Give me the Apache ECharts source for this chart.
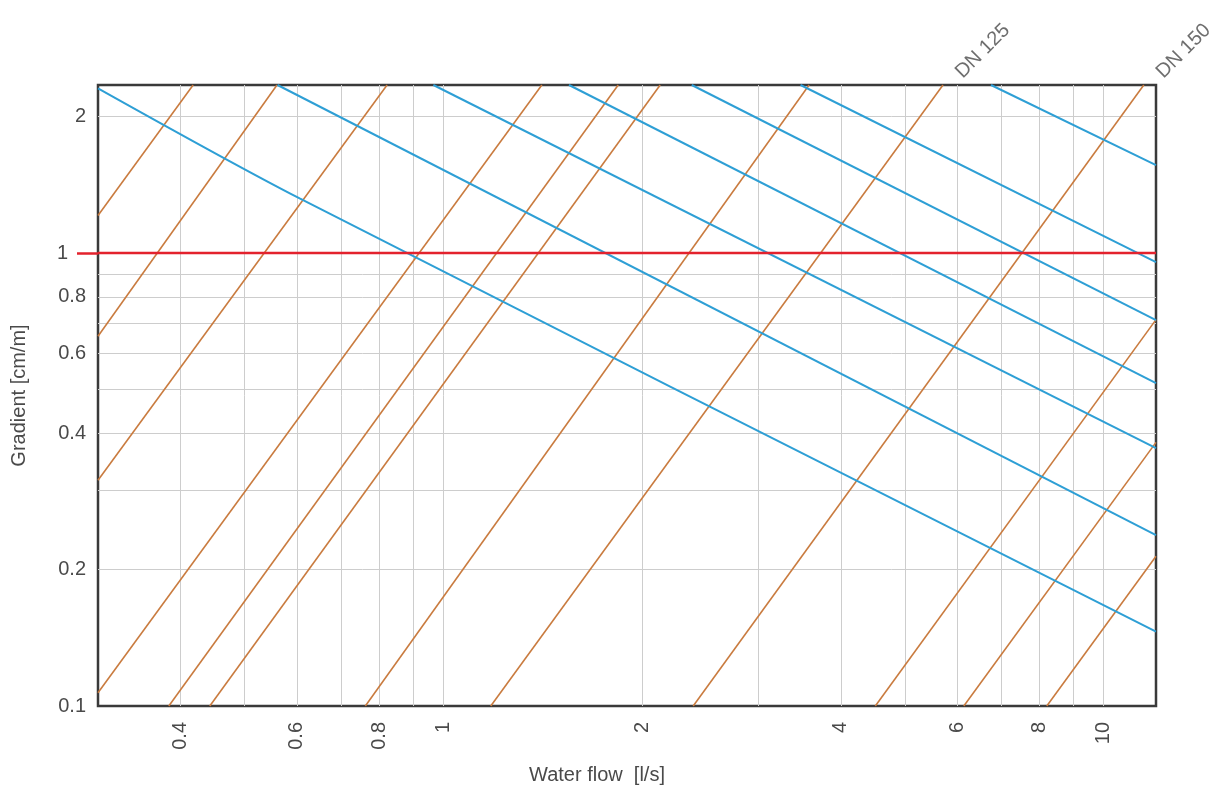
<!DOCTYPE html>
<html>
<head>
<meta charset="utf-8">
<title>Water flow vs gradient</title>
<script src="https://cdn.jsdelivr.net/npm/echarts@6/dist/echarts.min.js"></script>
<style>
  html, body { margin: 0; padding: 0; background: #ffffff; }
  #chart { width: 1210px; height: 794px; }
</style>
</head>
<body>
<div id="chart"></div>
<script>
// Axis ranges: flow in l/s, gradient in cm/m (both logarithmic)
const FLOW_RANGE = [0.3, 12];
const GRADIENT_RANGE = [0.1, 2.35];

// Grid lines and labelled ticks
const flowGridValues = [0.4, 0.5, 0.6, 0.7, 0.8, 0.9, 1, 2, 3, 4, 5, 6, 7, 8, 9, 10];
const flowTickLabels = [0.4, 0.6, 0.8, 1, 2, 4, 6, 8, 10];
const gradientGridValues = [0.2, 0.3, 0.4, 0.5, 0.6, 0.7, 0.8, 0.9, 1, 2];
const gradientTickLabels = [0.1, 0.2, 0.4, 0.6, 0.8, 1, 2];

// Pipe-size lines (orange): [flow, gradient] at both ends
const pipeLines = [
  [[0.300, 1.21], [0.418, 2.35]],
  [[0.300, 0.655], [0.560, 2.35]],
  [[0.300, 0.315], [0.822, 2.35]],
  [[0.300, 0.107], [1.41, 2.35]],
  [[0.384, 0.1], [1.84, 2.35]],
  [[0.443, 0.1], [2.13, 2.35]],
  [[0.762, 0.1], [3.58, 2.35]],
  [[1.18, 0.1], [5.71, 2.35]],
  [[2.39, 0.1], [11.5, 2.35]],
  [[4.51, 0.1], [12, 0.713]],
  [[6.14, 0.1], [12, 0.382]],
  [[8.20, 0.1], [12, 0.214]]
];
// Names written at the top end of a pipe line
const pipeNames = ['', '', '', '', '', '', '', 'DN 125', 'DN 150', '', '', ''];

// Velocity lines (blue): [flow, gradient] along each line
const velocityLines = [
  [[0.300, 2.31], [0.606, 1.32], [12, 0.146]],
  [[0.561, 2.35], [12, 0.2385]],
  [[0.966, 2.35], [12, 0.371]],
  [[1.55, 2.35], [12, 0.516]],
  [[2.378, 2.35], [12, 0.711]],
  [[3.475, 2.35], [12, 0.955]],
  [[6.75, 2.35], [12, 1.564]]
];

// Reference gradient (red line)
const referenceGradient = 1;

const FONT = '"Liberation Sans", Arial, Helvetica, sans-serif';
const TEXT_COLOR = '#4a4a4a';
const ORANGE = '#c97b3f';
const BLUE = '#2e9fd5';
const RED = '#e3222d';
const GRID_COLOR = '#cdcdcd';

const fmt = v => String(+(+v).toPrecision(6));

const series = [];

pipeLines.forEach(pts => {
  series.push({
    type: 'line',
    data: pts,
    showSymbol: false,
    silent: true,
    animation: false,
    z: 3,
    lineStyle: { color: ORANGE, width: 1.6 }
  });
});

velocityLines.forEach(pts => {
  series.push({
    type: 'line',
    data: pts,
    smooth: 0.3,
    showSymbol: false,
    silent: true,
    animation: false,
    z: 4,
    lineStyle: { color: BLUE, width: 2 }
  });
});

series.push({
  type: 'line',
  data: [[FLOW_RANGE[0], referenceGradient], [FLOW_RANGE[1], referenceGradient]],
  showSymbol: false,
  silent: true,
  animation: false,
  z: 5,
  lineStyle: { color: RED, width: 2.5 }
});

// Pipe names placed at the upper end of their lines
const nameMarks = [];
pipeNames.forEach((n, i) => {
  if (n) nameMarks.push({ name: n, value: pipeLines[i][pipeLines[i].length - 1] });
});
series.push({
  type: 'scatter',
  data: nameMarks,
  symbolSize: 1,
  clip: false,
  silent: true,
  animation: false,
  itemStyle: { color: 'rgba(0,0,0,0)' },
  label: {
    show: true,
    formatter: '{b}',
    position: 'right',
    distance: 11,
    offset: [10, -4],
    rotate: 45,
    align: 'left',
    verticalAlign: 'middle',
    fontFamily: FONT,
    fontSize: 20,
    color: TEXT_COLOR
  },
  z: 6
});

const chart = echarts.init(document.getElementById('chart'), null, { renderer: 'canvas' });

chart.setOption({
  backgroundColor: '#ffffff',
  animation: false,
  grid: {
    left: 98, right: 54, top: 85, bottom: 88,
    show: true,
    borderColor: '#3a3a3a',
    borderWidth: 2.5,
    backgroundColor: 'rgba(0,0,0,0)',
    outerBoundsMode: 'none'
  },
  xAxis: {
    type: 'log',
    logBase: 10,
    min: FLOW_RANGE[0],
    max: FLOW_RANGE[1],
    axisLine: { show: false },
    axisTick: { show: false, customValues: flowGridValues },
    splitLine: { show: true, lineStyle: { color: GRID_COLOR, width: 1 } },
    axisLabel: {
      show: true,
      customValues: flowTickLabels,
      rotate: 90,
      margin: 16,
      hideOverlap: false,
      fontFamily: FONT,
      fontSize: 20,
      color: TEXT_COLOR,
      formatter: fmt
    },
    name: 'Water flow  [l/s]',
    nameLocation: 'middle',
    nameGap: 59,
    nameTextStyle: {
      fontFamily: FONT, fontSize: 20, color: TEXT_COLOR,
      padding: [0, 60, 0, 0]
    }
  },
  yAxis: [{
    type: 'log',
    logBase: 10,
    min: GRADIENT_RANGE[0],
    max: GRADIENT_RANGE[1],
    axisLine: { show: false },
    axisTick: { show: false, customValues: gradientGridValues },
    splitLine: { show: true, lineStyle: { color: GRID_COLOR, width: 1 } },
    axisLabel: {
      show: true,
      customValues: gradientTickLabels,
      margin: 12,
      hideOverlap: false,
      fontFamily: FONT,
      fontSize: 20,
      color: TEXT_COLOR,
      formatter: v => (+v === referenceGradient ? '{ref|' + fmt(v) + '}' : fmt(v)),
      rich: {
        ref: { fontFamily: FONT, fontSize: 20, color: TEXT_COLOR, padding: [0, 18, 0, 0] }
      }
    },
    name: 'Gradient [cm/m]',
    nameLocation: 'middle',
    nameRotate: 90,
    nameGap: 69,
    nameTextStyle: { fontFamily: FONT, fontSize: 20, color: TEXT_COLOR }
  }, {
    // red tick continuing the reference line outside the frame
    type: 'log',
    logBase: 10,
    min: GRADIENT_RANGE[0],
    max: GRADIENT_RANGE[1],
    position: 'left',
    axisLine: { show: false },
    axisTick: {
      show: true,
      customValues: [referenceGradient],
      length: 21,
      lineStyle: { color: RED, width: 2.5 }
    },
    axisLabel: { show: false },
    splitLine: { show: false }
  }],
  series: series
});
</script>
</body>
</html>
